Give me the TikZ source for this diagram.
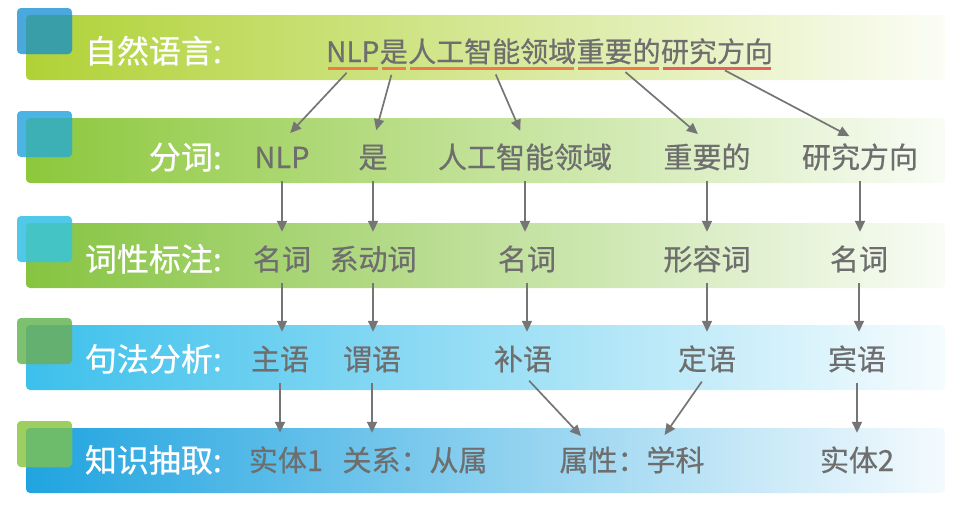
\documentclass[tikz,border=0pt]{standalone}
\usepackage{fontspec}
\setmainfont{Noto Sans CJK SC}[FakeBold=0.6]
\usetikzlibrary{positioning,arrows.meta}
\definecolor{txtgray}{HTML}{6E6E6E}
\definecolor{bandA}{HTML}{B0D236}
\definecolor{bandB}{HTML}{8CC83C}
\definecolor{bandC}{HTML}{86C440}
\definecolor{bandD}{HTML}{3CC0EC}
\definecolor{bandE}{HTML}{20A4E0}
\definecolor{sqA}{HTML}{4AA8DC}
\definecolor{sqB}{HTML}{4CB4E4}
\definecolor{sqC}{HTML}{50C8E8}
\definecolor{sqD}{HTML}{7CC070}
\definecolor{sqE}{HTML}{9CCE60}
\definecolor{ovA}{HTML}{3A9EA8}
\definecolor{ovB}{HTML}{3CB0B4}
\definecolor{ovC}{HTML}{44C4C4}
\definecolor{ovD}{HTML}{64B070}
\definecolor{ovE}{HTML}{6CBC6C}
\definecolor{ulOrange}{HTML}{EF7A45}
\definecolor{ulRed}{HTML}{E8605A}
\begin{document}
\begin{tikzpicture}[x=1pt, y=-1pt,
  word/.style={inner sep=0pt, text height=26pt, text depth=4pt, text=txtgray,
    font=\fontsize{29}{30}\selectfont},
  rowlabel/.style={anchor=east, inner sep=0pt, text height=28pt, text depth=4pt,
    text=white, font=\fontsize{32}{34}\selectfont},
  arr/.style={draw=txtgray!95, line width=1.7pt, -{Triangle[length=11pt,width=10pt]},
    shorten <=9pt, shorten >=12pt}]
  \useasboundingbox (0,0) rectangle (971,512);

  % bands with their corner squares
  \foreach \yt/\bc/\sc/\oc in {15/bandA/sqA/ovA, 118/bandB/sqB/ovB,
    223/bandC/sqC/ovC, 325/bandD/sqD/ovD, 428/bandE/sqE/ovE}
  {
    \shade[rounded corners=4pt, left color=\bc, middle color=\bc!42!white,
      right color=\bc!5!white] (26,\yt) rectangle (945,\yt+65);
    \fill[\sc, rounded corners=4pt] (17,\yt-7) rectangle (72,\yt+39);
    \begin{scope}
      \clip[rounded corners=4pt] (26,\yt) rectangle (945,\yt+65);
      \fill[\oc, rounded corners=4pt] (17,\yt-7) rectangle (72,\yt+39);
    \end{scope}
  }

  % row labels
  \foreach \yc/\lab [count=\i] in {51/自然语言:, 157/分词:, 259/词性标注:,
    359/句法分析:, 460/知识抽取:}
    \node[rowlabel] (lab\i) at (222,\yc) {\lab};

  % sentence
  \node[word, anchor=west, font=\fontsize{28}{30}\selectfont] (s1) at (326,51) {NLP};
  \node[word, right=0pt of s1, font=\fontsize{28}{30}\selectfont] (s2) {是};
  \node[word, right=0pt of s2, font=\fontsize{28}{30}\selectfont] (s3) {人工智能领域};
  \node[word, right=0pt of s3, font=\fontsize{28}{30}\selectfont] (s4) {重要的};
  \node[word, right=0pt of s4, font=\fontsize{28}{30}\selectfont] (s5) {研究方向};
  \foreach \w/\uc in {s1/ulOrange, s2/ulOrange, s3/ulOrange, s4/ulOrange, s5/ulRed}
    \draw[\uc, line width=2.6pt]
      ([xshift=2pt,yshift=-2pt]\w.south west) -- ([xshift=-2pt,yshift=-2pt]\w.south east);

  % tokens
  \foreach \xc/\txt [count=\i] in {282/NLP, 373/是, 525/人工智能领域, 707/重要的, 860/研究方向}
    \node[word] (t\i) at (\xc,157) {\txt};
  % parts of speech
  \foreach \xc/\txt [count=\i] in {282/名词, 373/系动词, 527/名词, 707/形容词, 859/名词}
    \node[word] (p\i) at (\xc,259) {\txt};
  % syntax
  \foreach \xc/\txt [count=\i] in {280/主语, 372/谓语, 523/补语, 707/定语, 857/宾语}
    \node[word] (g\i) at (\xc,359) {\txt};
  % knowledge
  \foreach \xc/\txt [count=\i] in {286/实体1, 415/关系：从属, 632/属性：学科, 857/实体2}
    \node[word] (k\i) at (\xc,460) {\txt};

  % arrows
  \foreach \i in {1,...,5}
  {
    \draw[arr] (s\i.south) -- (t\i.north);
    \draw[arr] (t\i.south) -- (t\i.south |- p\i.north);
    \draw[arr] (p\i.south) -- (p\i.south |- g\i.north);
  }
  \draw[arr] (g1.south) -- (g1.south |- k1.north);
  \draw[arr] (g2.south) -- (g2.south |- k2.north);
  \draw[arr] (g3.south) -- ([xshift=30pt]k3.north west);
  \draw[arr] (g4.south) -- ([xshift=-47pt]k3.north east);
  \draw[arr] (g5.south) -- (g5.south |- k4.north);
\end{tikzpicture}
\end{document}
